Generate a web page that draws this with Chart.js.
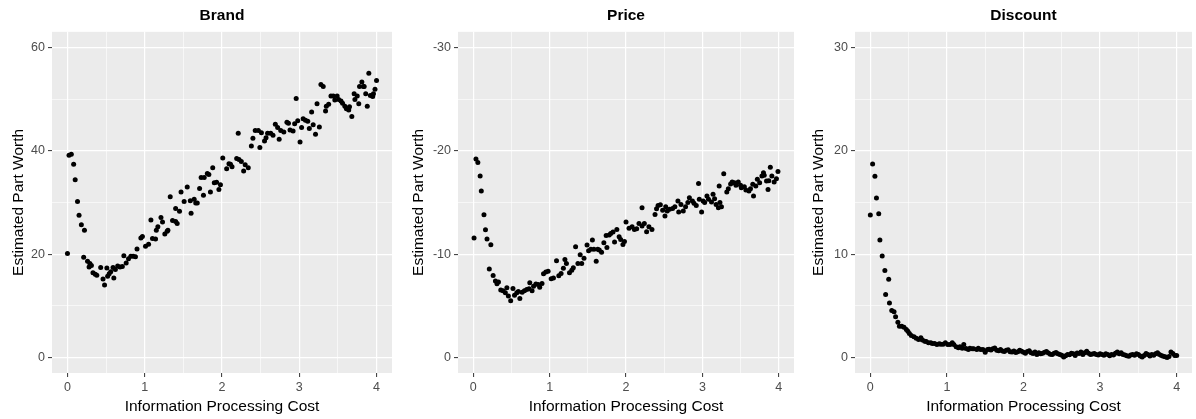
<!DOCTYPE html>
<html>
<head>
<meta charset="utf-8">
<script src="https://cdn.jsdelivr.net/npm/chart.js"></script>
<style>
  body { margin: 0; background: #ffffff; }
  #wrap { position: relative; width: 1196px; height: 419px; }
  canvas { position: absolute; top: 0; }
</style>
</head>
<body>
<div id="wrap">
  <canvas id="brandChart" width="400" height="419" style="left:0px"></canvas>
  <canvas id="priceChart" width="400" height="419" style="left:400px"></canvas>
  <canvas id="discountChart" width="396" height="419" style="left:800px"></canvas>
</div>

<script>
// ---- data: estimated part worth vs information processing cost ----
var brandX = [0.00,0.02,0.05,0.08,0.10,0.13,0.15,0.18,0.21,0.22,0.26,0.28,0.29,0.31,0.33,0.36,0.38,0.43,0.46,0.48,
  0.51,0.52,0.54,0.56,0.59,0.60,0.62,0.65,0.68,0.71,0.73,0.76,0.79,0.82,0.85,0.88,0.90,0.95,0.97,1.01,
  1.05,1.08,1.10,1.14,1.15,1.17,1.21,1.23,1.26,1.29,1.30,1.33,1.36,1.40,1.40,1.42,1.45,1.47,1.51,1.55,
  1.59,1.60,1.64,1.66,1.68,1.71,1.73,1.76,1.77,1.81,1.83,1.85,1.88,1.90,1.93,1.96,1.98,2.01,2.06,2.09,
  2.11,2.13,2.19,2.21,2.22,2.25,2.28,2.30,2.34,
  2.38,2.40,2.43,2.47,2.49,2.51,2.55,2.57,2.59,2.63,2.66,2.69,2.72,2.74,2.76,2.80,2.84,2.86,2.88,2.92,
  2.94,2.96,2.98,3.01,3.03,3.05,3.08,3.11,3.13,3.16,3.18,3.21,3.23,3.26,3.28,3.31,3.34,3.35,3.38,3.41,
  3.44,3.46,3.49,3.51,3.54,3.56,3.59,3.61,3.64,3.65,3.68,3.71,3.72,3.75,3.77,3.78,3.81,3.83,3.84,3.86,
  3.88,3.90,3.92,3.95,3.96,3.98,4.00];
var brandY = [20.1,39.1,39.3,37.4,34.4,30.2,27.5,25.7,19.4,24.6,18.6,17.5,18.2,17.8,16.4,16.1,15.9,17.4,15.2,14.0,
  17.3,15.7,16.2,16.6,17.4,15.4,17.0,17.7,17.5,17.6,19.7,18.3,19.1,19.6,19.6,19.5,21.0,23.1,23.4,21.5,
  21.9,26.6,23.0,22.9,24.6,25.3,27.1,26.2,23.9,24.4,24.6,31.1,26.5,26.3,28.8,25.9,28.3,32.0,30.2,33.0,
  30.3,27.9,30.6,29.9,29.9,32.7,34.8,31.4,34.8,35.6,35.4,32.0,36.7,33.8,33.9,32.5,33.4,38.6,36.5,37.5,
  37.4,36.9,38.5,43.4,38.3,37.9,36.1,37.3,36.7,
  40.9,42.4,43.9,43.9,40.6,43.5,41.9,42.5,43.4,43.4,43.0,45.1,44.5,42.2,43.9,43.6,45.5,45.3,44.0,43.8,
  45.2,50.1,45.8,41.7,44.5,46.2,45.9,45.7,44.3,47.5,45.0,43.2,49.1,44.6,52.8,52.4,47.7,48.6,49.0,50.6,
  50.6,49.8,50.6,49.9,49.6,49.2,48.6,48.1,47.9,48.5,46.6,51.0,49.9,50.6,49.1,52.4,53.3,52.4,52.4,51.0,
  48.6,55.0,50.7,50.5,51.0,51.9,53.6];

var priceX = [0.01,0.035,0.06,0.09,0.105,0.14,0.16,0.18,0.21,0.23,0.26,0.29,0.31,0.33,0.36,0.39,0.42,0.44,0.46,0.49,
  0.52,0.54,0.57,0.59,0.61,0.64,0.67,0.70,0.73,0.74,0.77,0.79,0.82,0.85,0.87,0.90,0.92,0.95,0.98,1.02,
  1.05,1.09,1.12,1.15,1.18,1.20,1.22,1.26,1.29,1.31,1.34,1.37,1.40,1.42,1.45,1.49,1.51,1.54,1.56,1.58,
  1.61,1.63,1.65,1.68,1.71,1.74,1.75,1.78,1.80,1.83,1.85,1.88,1.91,1.93,1.96,1.98,
  2.00,2.04,2.08,2.11,2.14,2.17,2.21,2.21,2.24,2.27,2.30,2.34,
  2.38,2.40,2.42,2.45,2.48,2.51,2.52,2.54,2.57,2.61,2.64,2.68,2.69,2.72,2.75,2.78,2.81,2.83,2.87,2.89,
  2.92,2.95,2.96,2.99,3.01,3.03,3.06,3.08,3.12,3.14,3.16,3.18,3.21,3.22,3.23,3.25,3.28,3.32,3.34,3.37,
  3.39,3.42,3.44,3.47,3.50,3.51,3.55,3.57,3.61,3.63,3.66,3.67,3.70,3.72,3.75,3.78,3.80,3.81,3.84,3.86,
  3.87,3.89,3.91,3.94,3.97,3.99];
var priceY = [-11.55,-19.2,-18.85,-17.55,-16.1,-13.8,-12.35,-11.45,-8.55,-10.9,-7.94,-7.39,-7.13,-7.29,-6.52,-6.46,-6.26,-6.74,-5.94,-5.49,
  -6.68,-6.03,-6.26,-6.39,-5.71,-6.32,-6.46,-6.58,-6.65,-7.23,-6.46,-6.9,-7.1,-7.07,-6.8,-7.16,-8.1,-8.26,-8.33,-7.62,
  -7.68,-9.36,-7.91,-8.13,-8.64,-9.49,-9.1,-8.2,-8.45,-8.68,-10.71,-9.1,-9.94,-9.1,-9.61,-10.87,-10.33,-10.46,-11.36,-10.46,
  -9.32,-10.46,-10.39,-10.19,-11.1,-11.81,-10.65,-11.84,-12.0,-12.13,-11.16,-12.39,-11.68,-11.42,-10.94,-11.23,
  -13.1,-12.49,-12.65,-12.39,-12.46,-12.97,-12.71,-14.49,-12.97,-12.17,-12.65,-12.39,
  -13.84,-14.39,-14.71,-14.78,-14.23,-13.68,-14.59,-14.16,-14.33,-14.42,-14.59,-15.13,-14.07,-14.81,-14.16,-14.59,-14.98,-15.46,-15.13,-14.91,
  -14.71,-16.84,-15.3,-14.07,-15.13,-14.98,-15.62,-15.3,-15.04,-15.78,-15.36,-14.81,-14.49,-16.58,-14.98,-14.59,-17.78,-16.0,-16.33,-16.78,
  -16.97,-16.91,-16.65,-16.97,-16.65,-16.43,-16.52,-16.2,-16.1,-16.33,-16.75,-15.62,-16.58,-17.23,-16.91,-17.55,-17.88,-17.62,-17.07,-16.26,
  -17.1,-18.39,-17.55,-16.97,-17.3,-18.0];

var discountX = [0.00,0.03,0.06,0.08,0.11,0.125,0.155,0.19,0.20,0.24,0.25,0.28,0.31,0.33,0.36,0.38,0.41,0.44,0.47,0.49,0.51,
  0.535,0.57,0.60,0.63,0.66,0.68,0.71,0.73,0.76,0.79,0.81,0.84,0.87,0.90,0.92,0.95,0.98,1.01,1.04,1.07,
  1.09,1.12,1.15,1.17,1.20,1.22,1.25,1.28,1.30,1.33,1.35,1.39,1.41,1.44,1.47,1.50,1.53,
  1.55,1.575,1.60,1.625,1.65,1.675,1.70,1.725,1.75,1.775,1.80,1.825,1.85,1.875,1.90,1.925,1.95,1.975,2.00,
  2.025,2.05,2.075,2.10,2.125,2.15,2.175,2.20,2.225,2.25,2.275,2.30,2.325,2.35,2.375,2.40,2.425,2.45,2.475,2.50,
  2.525,2.55,2.575,2.60,2.625,2.65,2.675,2.70,2.725,2.75,2.775,2.80,2.825,2.85,2.875,2.90,2.925,2.95,2.975,3.00,
  3.025,3.05,3.075,3.10,3.125,3.15,3.175,3.20,3.225,3.25,3.275,3.30,3.325,3.35,3.375,3.40,3.425,3.45,3.475,3.50,
  3.525,3.55,3.575,3.60,3.625,3.65,3.675,3.70,3.725,3.75,3.775,3.80,3.825,3.85,3.875,3.90,3.925,3.95,3.975,4.00];
var discountY = [13.78,18.71,17.52,15.42,13.91,11.36,9.81,8.42,6.1,7.58,5.26,4.55,4.42,3.94,3.42,3.03,3.03,2.93,2.71,2.55,2.32,
  2.13,2.0,1.87,1.74,1.9,1.68,1.58,1.55,1.42,1.42,1.36,1.36,1.26,1.33,1.29,1.29,1.42,1.26,1.26,1.42,
  1.26,1.04,0.94,1.04,0.9,1.26,0.87,0.77,0.9,0.84,0.84,0.77,0.9,0.77,0.77,0.51,0.77,
  0.80,0.72,0.85,0.92,0.70,0.66,0.78,0.62,0.58,0.70,0.75,0.55,0.52,0.64,0.48,0.56,0.70,0.60,0.50,
  0.42,0.58,0.66,0.45,0.38,0.52,0.30,0.46,0.35,0.40,0.50,0.58,0.44,0.32,0.28,0.40,0.48,0.35,0.30,0.22,
  0.05,0.18,0.30,0.26,0.40,0.35,0.20,0.44,0.38,0.52,0.30,0.45,0.60,0.42,0.28,0.34,0.38,0.30,0.25,0.36,
  0.30,0.22,0.35,0.28,0.18,0.30,0.25,0.40,0.52,0.36,0.45,0.28,0.24,0.18,0.12,0.25,0.30,0.22,0.35,0.28,
  0.15,0.05,0.20,0.38,0.30,0.15,0.28,0.22,0.35,0.45,0.30,0.20,0.12,0.08,0.00,0.10,0.52,0.38,0.20,0.20];

var xTicksMajor = [0, 1, 2, 3, 4];

var FONT = "'Liberation Sans', Arial, sans-serif";

// grey panel behind the grid
var panelBg = {
  id: 'panelBg',
  beforeDraw: function(chart) {
    var a = chart.chartArea, ctx = chart.ctx;
    ctx.save();
    ctx.fillStyle = '#EBEBEB';
    ctx.fillRect(a.left, a.top, a.right - a.left, a.bottom - a.top);
    ctx.restore();
  }
};

function toPoints(xs, ys) {
  return xs.map(function(x, i) { return {x: x, y: ys[i]}; });
}

function makePanel(id, title, xs, ys, y) {
  var isMajorY = function(v) { return Math.abs(v % y.major) < 1e-9; };
  var isMajorX = function(v) { return xTicksMajor.indexOf(Math.round(v * 100) / 100) !== -1; };
  return new Chart(document.getElementById(id), {
    type: 'scatter',
    data: {
      datasets: [{
        data: toPoints(xs, ys),
        backgroundColor: '#000000',
        borderWidth: 0,
        pointRadius: 2.5
      }]
    },
    options: {
      responsive: false,
      animation: false,
      layout: { padding: { left: 0, right: y.padRight, top: 0, bottom: 0 } },
      plugins: {
        legend: { display: false },
        tooltip: { enabled: false },
        title: {
          display: true,
          text: title,
          fullSize: false,
          color: '#000000',
          font: { family: FONT, size: 15.5, weight: 'bold', lineHeight: 1.15 },
          padding: { top: 7, bottom: 7 }
        }
      },
      scales: {
        x: {
          type: 'linear',
          min: -0.2, max: 4.2,
          afterFit: function(s) { s.height = 46; },
          border: { display: false },
          grid: {
            color: '#FFFFFF',
            lineWidth: function(c) { return c.tick && isMajorX(c.tick.value) ? 1.2 : 0.6; },
            tickColor: function(c) { return c.tick && isMajorX(c.tick.value) ? '#333333' : 'rgba(0,0,0,0)'; },
            tickWidth: 1,
            tickLength: 4
          },
          ticks: {
            stepSize: 0.5,
            includeBounds: false,
            autoSkip: false,
            maxRotation: 0,
            padding: 3,
            color: '#4D4D4D',
            font: { family: FONT, size: 12.5 },
            callback: function(v) { return isMajorX(v) ? String(Math.round(v)) : ''; }
          },
          title: {
            display: true,
            text: 'Information Processing Cost',
            color: '#000000',
            font: { family: FONT, size: 15.5 },
            padding: { top: 0, bottom: 3 }
          }
        },
        y: {
          type: 'linear',
          min: y.min, max: y.max,
          reverse: y.reverse,
          afterFit: function(s) { s.width = y.width; },
          border: { display: false },
          grid: {
            color: '#FFFFFF',
            lineWidth: function(c) { return c.tick && isMajorY(c.tick.value) ? 1.2 : 0.6; },
            tickColor: function(c) { return c.tick && isMajorY(c.tick.value) ? '#333333' : 'rgba(0,0,0,0)'; },
            tickWidth: 1,
            tickLength: 4
          },
          ticks: {
            stepSize: y.step,
            includeBounds: false,
            autoSkip: false,
            padding: 3,
            color: '#4D4D4D',
            font: { family: FONT, size: 12.5 },
            callback: function(v) { return isMajorY(v) ? String(v) : ''; }
          },
          title: {
            display: true,
            text: 'Estimated Part Worth',
            color: '#000000',
            font: { family: FONT, size: 15.5 },
            padding: { top: 9, bottom: 0 }
          }
        }
      }
    },
    plugins: [panelBg]
  });
}

makePanel('brandChart', 'Brand', brandX, brandY,
  { min: -3, max: 63, step: 10, major: 20, reverse: false, width: 52, padRight: 8 });
makePanel('priceChart', 'Price', priceX, priceY,
  { min: -31.5, max: 1.5, step: 5, major: 10, reverse: true, width: 58, padRight: 6 });
makePanel('discountChart', 'Discount', discountX, discountY,
  { min: -1.5, max: 31.5, step: 5, major: 10, reverse: false, width: 55, padRight: 1 });
</script>
</body>
</html>
